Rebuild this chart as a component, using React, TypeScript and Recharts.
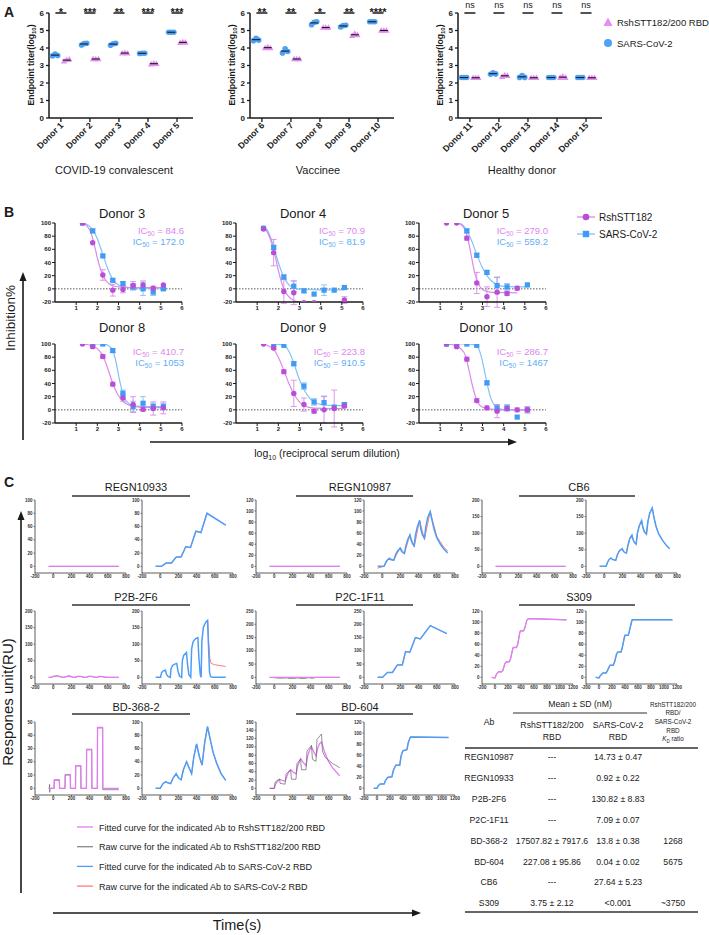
import React from 'react';
import { ComposedChart, Scatter, Line, XAxis, YAxis, ReferenceLine, ErrorBar } from 'recharts';

const FONT = '"Liberation Sans", Arial, Helvetica, sans-serif';

// ---------------- Panel A data ----------------
const donorsA1 = ['Donor 1', 'Donor 2', 'Donor 3', 'Donor 4', 'Donor 5'];
const donorsA2 = ['Donor 6', 'Donor 7', 'Donor 8', 'Donor 9', 'Donor 10'];
const donorsA3 = ['Donor 11', 'Donor 12', 'Donor 13', 'Donor 14', 'Donor 15'];
const sarsA1 = [[3.55, 3.66, 3.57], [4.17, 4.25, 4.27], [4.16, 4.24, 4.27], [3.69, 3.7, 3.7], [4.9, 4.9, 4.9]];
const rshA1 = [[3.24, 3.33, 3.35], [3.37, 3.37, 3.37], [3.7, 3.73, 3.7], [3.08, 3.13, 3.1], [4.3, 4.34, 4.32]];
const sigA1 = ['*', '***', '**', '***', '***'];
const sarsA2 = [[4.42, 4.56, 4.45], [3.72, 3.95, 3.8], [5.33, 5.47, 5.5], [5.2, 5.28, 5.3], [5.5, 5.5, 5.5]];
const rshA2 = [[4.0, 4.06, 4.0], [3.37, 3.37, 3.37], [5.17, 5.17, 5.17], [4.7, 4.82, 4.75], [5.0, 5.0, 5.0]];
const sigA2 = ['**', '**', '*', '**', '****'];
const sarsA3 = [[2.31, 2.31, 2.31], [2.5, 2.58, 2.52], [2.32, 2.42, 2.32], [2.31, 2.31, 2.31], [2.31, 2.31, 2.31]];
const rshA3 = [[2.3, 2.3, 2.3], [2.36, 2.45, 2.42], [2.3, 2.3, 2.3], [2.31, 2.38, 2.31], [2.3, 2.3, 2.3]];
const sigA3 = ['ns', 'ns', 'ns', 'ns', 'ns'];
const titerTicks = [0, 1, 2, 3, 4, 5, 6];
const groupLabelsA = ['COVID-19 convalescent', 'Vaccinee', 'Healthy donor'];
const legendA = ['RshSTT182/200 RBD', 'SARS-CoV-2'];

// ---------------- Panel B data ----------------
const dilX = [1.3, 1.78, 2.26, 2.73, 3.21, 3.69, 4.16, 4.64, 5.12];
const neutTitles = ['Donor 3', 'Donor 4', 'Donor 5', 'Donor 8', 'Donor 9', 'Donor 10'];
const neutRsh = [
  [100, 70, 21, -2, -1, 5, 6, 1, 6],
  [91, 55, -4, -6, -21, -21, null, null, -17],
  [100, 100, 77, 9, -12, -5, -7, 1, null],
  [100, 96, 81, 39, 18, 8, 1, 2, 3],
  [100, 94, 58, 25, 8, -2, 0, 2, 6],
  [100, 96, 77, 14, 3, -2, 2, 0, 0],
];
const neutRshErr = [
  [0, 0, 8, 9, 5, 6, 6, 3, 0],
  [0, 20, 18, 18, 0, 0, 0, 0, 5],
  [0, 0, 3, 16, 15, 23, 3, 3, 0],
  [0, 2, 3, 3, 5, 12, 3, 10, 9],
  [0, 2, 3, 20, 10, 3, 20, 28, 3],
  [0, 2, 3, 3, 3, 10, 3, 3, 5],
];
const neutSars = [
  [100, 88, 50, 13, 8, 3, 0, -5, 0],
  [92, 63, 18, 4, -3, -8, -2, -2, 2],
  [null, null, 88, 51, 25, 5, 3, null, 6],
  [null, 100, 100, 90, 25, 5, 10, 5, 5],
  [null, 100, 98, 70, 36, 12, 11, 4, 8],
  [100, 100, 100, 98, 41, 3, 3, -11, 0],
];
const neutSarsErr = [
  [0, 3, 2, 2, 3, 5, 10, 5, 2],
  [0, 3, 3, 8, 3, 0, 8, 0, 0],
  [0, 0, 3, 3, 3, 12, 5, 0, 0],
  [0, 0, 0, 3, 5, 8, 10, 5, 5],
  [0, 0, 0, 3, 5, 5, 10, 3, 3],
  [0, 0, 0, 0, 3, 5, 5, 0, 3],
];
const fitRsh = [
  [[1.3, 100], [1.5, 96], [1.7, 85], [1.85, 68], [2.0, 47], [2.15, 30], [2.3, 18], [2.5, 9], [2.7, 5], [3.0, 3], [3.5, 2], [4.5, 2], [5.12, 2]],
  [[1.3, 95], [1.5, 85], [1.7, 68], [1.85, 50], [2.0, 28], [2.15, 10], [2.3, -3], [2.5, -12], [2.7, -17], [3.0, -20], [3.5, -21], [5.12, -21.5]],
  [[1.78, 100], [2.0, 97], [2.2, 88], [2.35, 70], [2.5, 45], [2.65, 22], [2.8, 8], [3.0, -1], [3.3, -4.5], [3.7, -5.5], [4.64, -6]],
  [[1.3, 100], [1.78, 97], [2.0, 93], [2.26, 82], [2.5, 62], [2.73, 40], [2.95, 24], [3.21, 13], [3.5, 7], [4.0, 4], [4.6, 3.5], [5.12, 3.5]],
  [[1.3, 100], [1.6, 96], [1.8, 91], [2.0, 80], [2.26, 60], [2.5, 40], [2.73, 24], [3.0, 12], [3.3, 5], [3.7, 2.5], [4.5, 2], [5.12, 2]],
  [[1.3, 100], [1.78, 97], [2.0, 92], [2.2, 82], [2.35, 62], [2.5, 40], [2.65, 22], [2.8, 10], [3.0, 4], [3.4, 1], [4.0, 0], [5.12, 0]],
];
const fitSars = [
  [[1.3, 100], [1.6, 96], [1.8, 89], [2.0, 76], [2.26, 52], [2.5, 30], [2.73, 14], [3.0, 6], [3.3, 2.5], [4.0, 1], [5.12, 1]],
  [[1.3, 96], [1.5, 88], [1.7, 72], [1.85, 56], [2.0, 40], [2.26, 18], [2.5, 6], [2.8, 0.5], [3.2, -1], [4.0, -1.5], [5.12, -1.5]],
  [[1.9, 100], [2.1, 96], [2.3, 86], [2.5, 72], [2.73, 52], [3.0, 32], [3.21, 20], [3.5, 10], [3.8, 5], [4.2, 3.5], [5.12, 3]],
  [[1.78, 100], [2.26, 100], [2.5, 98], [2.73, 90], [2.9, 70], [3.05, 45], [3.21, 25], [3.4, 12], [3.7, 6], [4.2, 5], [5.12, 5]],
  [[1.78, 100], [2.26, 98], [2.5, 89], [2.73, 71], [2.95, 50], [3.21, 31], [3.5, 17], [3.8, 10], [4.3, 7], [5.12, 6.5]],
  [[1.3, 100], [2.26, 100], [2.6, 99], [2.8, 94], [2.95, 80], [3.1, 58], [3.21, 41], [3.35, 22], [3.5, 10], [3.7, 3], [4.0, 0.5], [5.12, 0]],
];
const icRsh = ['84.6', '70.9', '279.0', '410.7', '223.8', '286.7'];
const icSars = ['172.0', '81.9', '559.2', '1053', '910.5', '1467'];
const neutXTicks = [1, 2, 3, 4, 5, 6];
const neutYTicks = [-20, 0, 20, 40, 60, 80, 100];
const legendB = ['RshSTT182', 'SARS-CoV-2'];

// ---------------- Panel C data ----------------
const xt800 = [-200, 0, 200, 400, 600, 800];
const xt1200 = [-200, 0, 200, 400, 600, 800, 1000, 1200];
const yt50 = [0, 10, 20, 30, 40, 50];
const yt100 = [0, 20, 40, 60, 80, 100];
const yt120 = [0, 20, 40, 60, 80, 100, 120];
const yt160 = [0, 20, 40, 60, 80, 100, 120, 140, 160];
const yt200 = [0, 50, 100, 150, 200];
const yt250 = [0, 50, 100, 150, 200, 250];

const flatRsh = [[-50, 0], [720, 0]];
const reg33Sars = [[-50, 0], [13, 0], [65, 5], [124, 5], [176, 14], [229, 14], [281, 29.5], [333, 28.5], [392, 53], [448, 51], [514, 80], [720, 62]];
const reg87Sars = [[-50, 0], [21, 0], [35, 6], [50, 10], [74, 14], [90, 12.5], [127, 11], [145, 20], [165, 27], [198, 33], [210, 28], [225, 25], [244, 23], [260, 37], [280, 48], [305, 57], [318, 47], [333, 41], [351, 37], [365, 56], [385, 71], [411, 83], [425, 67], [442, 57], [464, 51], [480, 72], [500, 88], [528, 99], [545, 85], [570, 67], [600, 52], [640, 40], [680, 31], [720, 24]];
const reg87SarsRaw = [[-50, -3], [21, 0], [74, 15.5], [127, 11], [198, 34], [244, 23], [305, 57], [351, 35], [411, 83], [464, 49], [528, 99], [600, 54], [680, 34], [720, 28]];
const cb6Sars = [[-50, 0], [21, 0], [35, 11], [50, 19], [74, 25], [90, 21], [127, 18], [145, 35], [165, 46], [198, 53], [210, 46], [225, 42], [244, 40], [260, 62], [280, 83], [305, 94], [318, 80], [333, 72], [351, 67], [365, 100], [385, 122], [411, 138], [425, 117], [442, 104], [464, 97], [480, 135], [500, 160], [528, 176], [545, 150], [570, 120], [600, 97], [640, 79], [680, 64], [720, 53]];
const p2bRsh = [[-50, 0], [-20, 0], [0, 3], [30, 4], [60, 4], [90, 1], [120, 0], [150, 3], [180, 4], [210, 1], [240, 0], [270, 3], [300, 3], [330, 1], [360, 0], [390, 3], [420, 3], [450, 1], [480, 0], [510, 3], [540, 2], [580, 0], [720, 0]];
const p2bSars = [[-50, 0], [4, 0], [15, 14], [30, 19], [57, 22], [68, 10], [85, 3], [111, 0], [118, 25], [135, 36], [160, 40], [182, 42], [195, 20], [212, 4], [236, 0], [243, 50], [258, 66], [289, 75], [300, 40], [315, 8], [336, 0], [345, 85], [362, 108], [390, 117], [414, 120], [425, 60], [440, 8], [450, 0], [458, 110], [475, 152], [504, 168], [521, 172], [530, 100], [542, 15], [555, 2], [572, 0], [720, 0]];
const p2bSarsRaw = [[504, 168], [521, 172], [532, 110], [545, 58], [560, 42], [600, 38], [720, 33]];
const p2cRshRaw = [[-50, 0], [0, -1], [40, -3], [100, -3], [140, -2], [160, -4], [220, -4], [260, -2], [280, -4], [340, -4], [380, -1], [400, -3], [430, -3], [460, 0], [720, 0]];
const p2cSars = [[-50, 0], [4, 0], [58, 18.6], [112, 18.6], [167, 47], [221, 47], [257, 97], [304, 95], [365, 150], [419, 145], [528, 195], [710, 165]];
const s309Rsh = [[-50, 0], [0, -1], [20, 5], [50, 10], [100, 10], [120, 12], [150, 24], [170, 28], [220, 28], [240, 34], [270, 50], [280, 54], [330, 54], [350, 60], [380, 80], [390, 84], [440, 84], [460, 90], [490, 103], [510, 106], [600, 106], [1100, 104]];
const s309Sars = [[-50, 0], [0, -1], [20, 3], [60, 8], [110, 8], [130, 12], [160, 20], [170, 22], [220, 22], [240, 28], [270, 42], [290, 46], [340, 46], [360, 55], [390, 72], [400, 76], [450, 76], [470, 85], [500, 100], [510, 104], [1130, 104]];
const bd368Rsh = [[-50, 0], [10, 0], [12, 6], [68, 6], [70, 0], [130, 0], [132, 10], [188, 10], [190, 0], [245, 0], [247, 17], [303, 17], [305, 0], [365, 0], [367, 29], [423, 29], [425, 0], [485, 0], [487, 46], [543, 46], [545, 0], [720, 0]];
const bd368RshRaw = [[-50, 0], [-42, 0], [-40, 3], [-38, -3], [-36, 0], [10, 0], [12, 6.5], [68, 6.5], [70, 0], [130, 0], [132, 10.5], [188, 10.5], [190, 0], [245, 0], [247, 17], [303, 17], [305, 0], [365, 0], [367, 29.5], [423, 29.5], [425, 0], [485, 0], [487, 45.5], [543, 45.5], [545, -1], [720, -1]];
const bd368Sars = [[-50, 0], [0, 0], [30, 7], [60, 10], [90, 8], [115, 7], [140, 15], [175, 22], [200, 16], [230, 13], [255, 28], [290, 40], [320, 30], [345, 22], [370, 48], [400, 67], [430, 48], [460, 35], [490, 70], [520, 93], [540, 80], [580, 55], [620, 38], [670, 22], [720, 12]];
const bd604Rsh = [[-50, 0], [0, 0], [20, 12], [40, 18], [60, 22], [90, 19], [120, 17], [140, 30], [160, 40], [180, 45], [210, 39], [240, 35], [260, 55], [280, 67], [290, 72], [320, 62], [350, 55], [370, 80], [390, 93], [410, 100], [435, 88], [460, 78], [480, 98], [500, 108], [520, 112], [550, 90], [590, 68], [640, 50], [680, 40], [720, 30]];
const bd604RshRaw = [[-50, 0], [0, 0], [10, 15], [40, 20], [60, 22], [65, 12], [120, 10], [130, 35], [180, 44], [190, 22], [240, 22], [250, 60], [290, 70], [300, 45], [350, 45], [360, 90], [410, 104], [420, 70], [460, 65], [470, 118], [520, 131], [530, 90], [560, 75], [640, 60], [720, 50]];
const bd604Sars = [[-50, 0], [0, 0], [20, 5], [50, 8], [110, 8], [130, 14], [160, 19], [170, 20], [230, 21], [250, 32], [280, 40], [290, 42], [350, 42], [370, 58], [395, 67], [400, 68], [460, 70], [480, 82], [510, 92], [520, 93], [1100, 92]];

const sprTitles = [['REGN10933', 'REGN10987', 'CB6'], ['P2B-2F6', 'P2C-1F11', 'S309'], ['BD-368-2', 'BD-604']];
const legendC = [
  'Fitted curve for the indicated Ab to RshSTT182/200 RBD',
  'Raw curve for the indicated Ab to RshSTT182/200 RBD',
  'Fitted curve for the indicated Ab to SARS-CoV-2 RBD',
  'Raw curve for the indicated Ab to SARS-CoV-2 RBD',
];
const tableAb = ['REGN10987', 'REGN10933', 'P2B-2F6', 'P2C-1F11', 'BD-368-2', 'BD-604', 'CB6', 'S309'];
const tableRsh = ['---', '---', '---', '---', '17507.82 ± 7917.6', '227.08 ± 95.86', '---', '3.75 ± 2.12'];
const tableSars = ['14.73 ± 0.47', '0.92 ± 0.22', '130.82 ± 8.83', '7.09 ± 0.07', '13.8 ± 0.38', '0.04 ± 0.02', '27.64 ± 5.23', '<0.001'];
const tableRatio = ['', '', '', '', '1268', '5675', '', '~3750'];

// ---------------- colours ----------------
const BLUE_A = '#4ea2f5';
const PINK_A = '#e48ef1';
const PURPLE_B = '#b94dd8';
const PURPLE_FIT = '#d98be9';
const BLUE_B = '#3f9bf3';
const BLUE_FIT = '#84c1f8';
const IC_PINK = '#dd86ee';
const IC_BLUE = '#62aef6';
const MAG_C = '#e37cf2';
const GRAY_C = '#666666';
const BLUE_C = '#4d9ef7';
const RED_C = '#ff7b7b';
const INK = '#1a1a1a';

const avg = (a: number[]) => a.reduce((s, v) => s + v, 0) / a.length;

// ---------------- Panel A chart ----------------
function TiterChart({ left, labels, sars, rsh, sig }: any) {
  const bluePts = sars.flatMap((reps: number[], i: number) => reps.map((v, j) => ({ x: i + 1 - 0.2 + (j - 1) * 0.09, y: v })));
  const pinkPts = rsh.flatMap((reps: number[], i: number) => reps.map((v, j) => ({ x: i + 1 + 0.2 + (j - 1) * 0.09, y: v })));
  const meanPts = [
    ...sars.map((r: number[], i: number) => ({ x: i + 1 - 0.2, y: avg(r) })),
    ...rsh.map((r: number[], i: number) => ({ x: i + 1 + 0.2, y: avg(r) })),
  ];
  const sigPts = sig.map((s: string, i: number) => ({ x: i + 1, y: 6, label: s }));
  const tick = (p: any) => {
    const tx = p.x + 3;
    const ty = p.y + 2;
    return (
      <text x={tx} y={ty} transform={`rotate(-45 ${tx} ${ty})`} textAnchor="end" fontSize={8.8} fontWeight="bold" fill={INK} fontFamily={FONT}>
        {labels[p.payload.value - 1]}
      </text>
    );
  };
  return (
    <div style={{ position: 'absolute', left, top: 0 }}>
      <ComposedChart width={200} height={160} margin={{ top: 13, right: 7, bottom: 0, left: 0 }}>
        <XAxis type="number" dataKey="x" domain={[0.59, 5.55]} ticks={[1, 2, 3, 4, 5]} interval={0} height={42}
          tick={tick} tickSize={4} tickMargin={2} axisLine={{ stroke: INK, strokeWidth: 1.5 }} tickLine={{ stroke: INK, strokeWidth: 1.3 }} />
        <YAxis type="number" dataKey="y" domain={[0, 6]} ticks={titerTicks} interval={0} width={49}
          tick={{ fontSize: 8, fill: INK, fontWeight: 'bold', fontFamily: FONT }} tickSize={3} tickMargin={2}
          axisLine={{ stroke: INK, strokeWidth: 1.5 }} tickLine={{ stroke: INK, strokeWidth: 1.3 }} />
        <Scatter data={bluePts} isAnimationActive={false}
          shape={(p: any) => <circle cx={p.cx} cy={p.cy} r={2.8} fill={BLUE_A} />} />
        <Scatter data={pinkPts} isAnimationActive={false}
          shape={(p: any) => <polygon points={`${p.cx},${p.cy - 3.3} ${p.cx - 3.2},${p.cy + 2.3} ${p.cx + 3.2},${p.cy + 2.3}`} fill={PINK_A} />} />
        <Scatter data={meanPts} isAnimationActive={false}
          shape={(p: any) => <line x1={p.cx - 4} x2={p.cx + 4} y1={p.cy} y2={p.cy} stroke={INK} strokeWidth={1.1} />} />
        <Scatter data={sigPts} isAnimationActive={false}
          shape={(p: any) => (
            <g>
              <line x1={p.cx - 5.5} x2={p.cx + 5.5} y1={p.cy} y2={p.cy} stroke={INK} strokeWidth={1.5} />
              <text x={p.cx} y={p.payload.label === 'ns' ? p.cy - 5 : p.cy + 2.5} textAnchor="middle"
                fontSize={p.payload.label === 'ns' ? 9 : 11} fontWeight={p.payload.label === 'ns' ? 'normal' : 'bold'} fill={INK} fontFamily={FONT}>
                {p.payload.label}
              </text>
            </g>
          )} />
      </ComposedChart>
    </div>
  );
}

// ---------------- Panel B chart ----------------
function NeutChart({ left, top, idx }: any) {
  const rshPts = dilX.map((x, i) => (neutRsh[idx][i] == null ? null : { x, y: neutRsh[idx][i], e: neutRshErr[idx][i] })).filter(Boolean);
  const sarsPts = dilX.map((x, i) => (neutSars[idx][i] == null ? null : { x, y: neutSars[idx][i], e: neutSarsErr[idx][i] })).filter(Boolean);
  const rf = fitRsh[idx].map(([x, y]) => ({ x, y }));
  const sf = fitSars[idx].map(([x, y]) => ({ x, y }));
  const tickStyle = { fontSize: 6, fill: INK, fontWeight: 'bold', fontFamily: FONT };
  return (
    <div style={{ position: 'absolute', left, top }}>
      <ComposedChart width={190} height={101} margin={{ top: 8, right: 8, bottom: 0, left: 0 }}>
        <XAxis type="number" dataKey="x" domain={[0, 6]} ticks={neutXTicks} interval={0} height={14}
          tick={tickStyle} tickSize={3} tickMargin={1} axisLine={{ stroke: INK, strokeWidth: 1.3 }} tickLine={{ stroke: INK, strokeWidth: 1 }} />
        <YAxis type="number" dataKey="y" domain={[-20, 100]} ticks={neutYTicks} interval={0} width={55}
          tick={tickStyle} tickSize={3} tickMargin={1} axisLine={{ stroke: INK, strokeWidth: 1.3 }} tickLine={{ stroke: INK, strokeWidth: 1 }} allowDataOverflow />
        <ReferenceLine y={0} stroke="#333" strokeDasharray="1.5 1.5" strokeWidth={0.8} />
        <Line data={sf} dataKey="y" type="monotone" stroke={BLUE_FIT} strokeWidth={1.2} dot={false} isAnimationActive={false} />
        <Line data={rf} dataKey="y" type="monotone" stroke={PURPLE_FIT} strokeWidth={1.2} dot={false} isAnimationActive={false} />
        <Scatter data={sarsPts} isAnimationActive={false}
          shape={(p: any) => <rect x={p.cx - 2.6} y={p.cy - 2.6} width={5.2} height={5.2} fill={BLUE_B} />}>
          <ErrorBar dataKey="e" direction="y" width={3} stroke={BLUE_FIT} strokeWidth={0.9} isAnimationActive={false} />
        </Scatter>
        <Scatter data={rshPts} isAnimationActive={false}
          shape={(p: any) => <circle cx={p.cx} cy={p.cy} r={2.7} fill={PURPLE_B} />}>
          <ErrorBar dataKey="e" direction="y" width={3} stroke={PURPLE_FIT} strokeWidth={0.9} isAnimationActive={false} />
        </Scatter>
      </ComposedChart>
    </div>
  );
}

// ---------------- Panel C chart ----------------
function SprChart({ x0, yTop, xTicks, yTicks, lines }: any) {
  const W = 91;
  const H = 73;
  const R = 7;
  const yMax = yTicks[yTicks.length - 1];
  const xMax = xTicks[xTicks.length - 1];
  const tickStyle = { fontSize: 4.5, fill: '#333', fontWeight: 'bold', fontFamily: FONT };
  return (
    <div style={{ position: 'absolute', left: x0 - 16, top: yTop - 4 }}>
      <ComposedChart width={16 + W + R} height={4 + H + 10} margin={{ top: 4, right: R, bottom: 0, left: 0 }}>
        <XAxis type="number" dataKey="x" domain={[-200, xMax]} ticks={xTicks} interval={0} height={10} allowDataOverflow
          tick={tickStyle} tickSize={1.5} tickMargin={0.5} axisLine={{ stroke: '#333', strokeWidth: 0.8 }} tickLine={{ stroke: '#333', strokeWidth: 0.6 }} />
        <YAxis type="number" dataKey="y" domain={[-yMax * 0.1, yMax]} ticks={yTicks} interval={0} width={16} allowDataOverflow
          tick={tickStyle} tickSize={1.5} tickMargin={1} axisLine={{ stroke: '#333', strokeWidth: 0.8 }} tickLine={{ stroke: '#333', strokeWidth: 0.6 }} />
        {lines.map((l: any, i: number) => (
          <Line key={i} data={l.data.map(([x, y]: number[]) => ({ x, y }))} dataKey="y" type="linear"
            stroke={l.color} strokeWidth={l.w} dot={false} isAnimationActive={false} />
        ))}
      </ComposedChart>
    </div>
  );
}

const colL = [35, 256, 482];
const colR = [142, 364, 586];
const rowTop = [500, 611, 722];
const titleX = [136, 360, 579];
const titleY = [491, 601, 711];
const ulineY = [496, 605, 714];
const ulineX = [[72, 190], [296, 413], [519, 635]];

const mag = (d: number[][]) => ({ data: d, color: MAG_C, w: 1.3 });
const gray = (d: number[][]) => ({ data: d, color: GRAY_C, w: 0.7 });
const blue = (d: number[][]) => ({ data: d, color: BLUE_C, w: 1.5 });
const red = (d: number[][]) => ({ data: d, color: RED_C, w: 1 });

function Arrow({ x1, y1, x2, y2 }: any) {
  const vertical = x1 === x2;
  const head = vertical
    ? `${x2},${y2} ${x2 - 3.5},${y2 + 9} ${x2 + 3.5},${y2 + 9}`
    : `${x2},${y2} ${x2 - 9},${y2 - 3.5} ${x2 - 9},${y2 + 3.5}`;
  return (
    <g>
      <line x1={x1} y1={y1} x2={vertical ? x2 : x2 - 6} y2={vertical ? y2 + 6 : y2} stroke={INK} strokeWidth={1.6} />
      <polygon points={head} fill={INK} />
    </g>
  );
}

export default function App() {
  const aAxes = [49, 250, 458];
  const bAxes = [55, 236, 419];
  const bRowTop = [215, 336];
  return (
    <div style={{ position: 'absolute', left: 0, top: 0, width: 709, height: 935, background: '#fff', overflow: 'hidden', fontFamily: FONT }}>
      {/* Panel A */}
      <TiterChart left={0} labels={donorsA1} sars={sarsA1} rsh={rshA1} sig={sigA1} />
      <TiterChart left={201} labels={donorsA2} sars={sarsA2} rsh={rshA2} sig={sigA2} />
      <TiterChart left={409} labels={donorsA3} sars={sarsA3} rsh={rshA3} sig={sigA3} />

      {/* Panel B */}
      {neutTitles.map((t, i) => (
        <NeutChart key={t} left={bAxes[i % 3] - 55} top={bRowTop[Math.floor(i / 3)]} idx={i} />
      ))}

      {/* Panel C */}
      <SprChart x0={colL[0]} yTop={rowTop[0]} xTicks={xt800} yTicks={yt100} lines={[gray(flatRsh), mag(flatRsh)]} />
      <SprChart x0={colR[0]} yTop={rowTop[0]} xTicks={xt800} yTicks={yt100} lines={[red(reg33Sars), blue(reg33Sars)]} />
      <SprChart x0={colL[1]} yTop={rowTop[0]} xTicks={xt800} yTicks={yt120} lines={[gray(flatRsh), mag(flatRsh)]} />
      <SprChart x0={colR[1]} yTop={rowTop[0]} xTicks={xt800} yTicks={yt120} lines={[red(reg87SarsRaw), blue(reg87Sars)]} />
      <SprChart x0={colL[2]} yTop={rowTop[0]} xTicks={xt800} yTicks={yt200} lines={[gray(flatRsh), mag(flatRsh)]} />
      <SprChart x0={colR[2]} yTop={rowTop[0]} xTicks={xt800} yTicks={yt200} lines={[red(cb6Sars), blue(cb6Sars)]} />

      <SprChart x0={colL[0]} yTop={rowTop[1]} xTicks={xt800} yTicks={yt200} lines={[gray(p2bRsh), mag(p2bRsh)]} />
      <SprChart x0={colR[0]} yTop={rowTop[1]} xTicks={xt800} yTicks={yt200} lines={[red(p2bSarsRaw), blue(p2bSars)]} />
      <SprChart x0={colL[1]} yTop={rowTop[1]} xTicks={xt800} yTicks={yt250} lines={[gray(p2cRshRaw), mag(flatRsh)]} />
      <SprChart x0={colR[1]} yTop={rowTop[1]} xTicks={xt800} yTicks={yt250} lines={[red(p2cSars), blue(p2cSars)]} />
      <SprChart x0={colL[2]} yTop={rowTop[1]} xTicks={xt1200} yTicks={yt120} lines={[gray(s309Rsh), mag(s309Rsh)]} />
      <SprChart x0={colR[2]} yTop={rowTop[1]} xTicks={xt1200} yTicks={yt120} lines={[red(s309Sars), blue(s309Sars)]} />

      <SprChart x0={colL[0]} yTop={rowTop[2]} xTicks={xt800} yTicks={yt50} lines={[gray(bd368RshRaw), mag(bd368Rsh)]} />
      <SprChart x0={colR[0]} yTop={rowTop[2]} xTicks={xt800} yTicks={yt100} lines={[red(bd368Sars), blue(bd368Sars)]} />
      <SprChart x0={colL[1]} yTop={rowTop[2]} xTicks={xt800} yTicks={yt160} lines={[mag(bd604Rsh), gray(bd604RshRaw)]} />
      <SprChart x0={colR[1]} yTop={rowTop[2]} xTicks={xt1200} yTicks={yt120} lines={[red(bd604Sars), blue(bd604Sars)]} />

      {/* Overlay texts and decorations */}
      <svg width={709} height={935} style={{ position: 'absolute', left: 0, top: 0, pointerEvents: 'none' }} fontFamily={FONT}>
        {/* panel letters */}
        <text x={4} y={17} fontSize={14} fontWeight="bold" fill={INK}>A</text>
        <text x={4} y={217} fontSize={14} fontWeight="bold" fill={INK}>B</text>
        <text x={4} y={487} fontSize={14} fontWeight="bold" fill={INK}>C</text>

        {/* A: y labels */}
        {aAxes.map((ax) => (
          <text key={ax} transform={`translate(${ax - 15},65) rotate(-90)`} textAnchor="middle" fontSize={8.6} fontWeight="bold" fill={INK}>
            Endpoint titer(log<tspan fontSize={6} dy={2}>10</tspan><tspan dy={-2}>)</tspan>
          </text>
        ))}
        {/* A: group labels */}
        <text x={114} y={174} textAnchor="middle" fontSize={11} fill={INK}>{groupLabelsA[0]}</text>
        <text x={318} y={174} textAnchor="middle" fontSize={11} fill={INK}>{groupLabelsA[1]}</text>
        <text x={522} y={174} textAnchor="middle" fontSize={11} fill={INK}>{groupLabelsA[2]}</text>
        {/* A: legend */}
        <polygon points="608,17.5 603.5,26 612.5,26" fill={PINK_A} />
        <text x={617} y={26} fontSize={9.5} fill={INK}>{legendA[0]}</text>
        <circle cx={608} cy={43} r={4} fill={BLUE_A} />
        <text x={617} y={46.5} fontSize={9.5} fill={INK}>{legendA[1]}</text>

        {/* B: titles & IC50 */}
        {neutTitles.map((t, i) => {
          const ax = bAxes[i % 3];
          const r = Math.floor(i / 3);
          const ty = r === 0 ? 218 : 332;
          const icy = r === 0 ? 233.5 : 354.5;
          return (
            <g key={t}>
              <text x={ax + 67} y={ty} textAnchor="middle" fontSize={13} fill={INK}>{t}</text>
              <text x={ax + 129} y={icy} textAnchor="end" fontSize={9.5} fill={IC_PINK}>
                IC<tspan fontSize={6.5} dy={2}>50</tspan><tspan dy={-2}>{' = ' + icRsh[i]}</tspan>
              </text>
              <text x={ax + 129} y={icy + 11.5} textAnchor="end" fontSize={9.5} fill={IC_BLUE}>
                IC<tspan fontSize={6.5} dy={2}>50</tspan><tspan dy={-2}>{' = ' + icSars[i]}</tspan>
              </text>
            </g>
          );
        })}
        {/* B: legend */}
        <line x1={577} x2={595} y1={217} y2={217} stroke={PURPLE_FIT} strokeWidth={1.3} />
        <circle cx={586} cy={217} r={3.3} fill={PURPLE_B} />
        <text x={599} y={220.5} fontSize={10} fill={INK}>{legendB[0]}</text>
        <line x1={577} x2={595} y1={234} y2={234} stroke={BLUE_FIT} strokeWidth={1.3} />
        <rect x={582.8} y={230.8} width={6.4} height={6.4} fill={BLUE_B} />
        <text x={599} y={237.5} fontSize={10} fill={INK}>{legendB[1]}</text>
        {/* B: axis titles */}
        <text transform="translate(15,318) rotate(-90)" textAnchor="middle" fontSize={13.5} fill={INK}>Inhibition%</text>
        <Arrow x1={23} y1={440} x2={23} y2={272} />
        <Arrow x1={150} y1={442} x2={517} y2={442} />
        <text x={327} y={457} textAnchor="middle" fontSize={10.5} fill={INK}>
          log<tspan fontSize={7} dy={3}>10</tspan><tspan dy={-3}> (reciprocal serum dilution)</tspan>
        </text>

        {/* C: titles */}
        {sprTitles.map((row, r) =>
          row.map((t, c) => (
            <g key={t}>
              <text x={titleX[c]} y={titleY[r]} textAnchor="middle" fontSize={11} fill={INK}>{t}</text>
              <line x1={ulineX[c][0]} x2={ulineX[c][1]} y1={ulineY[r]} y2={ulineY[r]} stroke="#333" strokeWidth={1.5} />
            </g>
          ))
        )}
        {/* C: axis titles */}
        <text transform="translate(13,702) rotate(-90)" textAnchor="middle" fontSize={15} fill={INK}>Respones unit(RU)</text>
        <Arrow x1={21} y1={893} x2={21} y2={511} />
        <Arrow x1={53} y1={913} x2={421} y2={913} />
        <text x={237} y={930} textAnchor="middle" fontSize={14.5} fill={INK}>Time(s)</text>

        {/* C: legend */}
        {legendC.map((t, i) => (
          <g key={t}>
            <line x1={77} x2={93} y1={827 + i * 19.7} y2={827 + i * 19.7} stroke={[MAG_C, '#888', BLUE_C, RED_C][i]} strokeWidth={1.3} />
            <text x={99} y={830.5 + i * 19.7} fontSize={9} fill={INK}>{t}</text>
          </g>
        ))}

        {/* C: table */}
        <text x={580} y={707} textAnchor="middle" fontSize={8.7} fill={INK}>Mean ± SD (nM)</text>
        <line x1={513} x2={647} y1={713} y2={713} stroke="#333" strokeWidth={1.2} />
        <text x={489} y={725} textAnchor="middle" fontSize={8.7} fill={INK}>Ab</text>
        <text x={552} y={728} textAnchor="middle" fontSize={8.7} fill={INK}>RshSTT182/200</text>
        <text x={552} y={740} textAnchor="middle" fontSize={8.7} fill={INK}>RBD</text>
        <text x={618} y={728} textAnchor="middle" fontSize={8.7} fill={INK}>SARS-CoV-2</text>
        <text x={618} y={740} textAnchor="middle" fontSize={8.7} fill={INK}>RBD</text>
        <text x={673} y={706.5} textAnchor="middle" fontSize={6.3} fill={INK}>RshSTT182/200</text>
        <text x={673} y={715} textAnchor="middle" fontSize={6.3} fill={INK}>RBD/</text>
        <text x={673} y={724} textAnchor="middle" fontSize={6.3} fill={INK}>SARS-CoV-2</text>
        <text x={673} y={732.5} textAnchor="middle" fontSize={6.3} fill={INK}>RBD</text>
        <text x={673} y={741} textAnchor="middle" fontSize={6.3} fill={INK}>
          <tspan fontStyle="italic">K</tspan><tspan fontSize={4.5} dy={1.5}>D</tspan><tspan dy={-1.5}> ratio</tspan>
        </text>
        <line x1={465} x2={698} y1={748} y2={748} stroke="#333" strokeWidth={1.5} />
        {tableAb.map((ab, i) => {
          const y = 760 + i * 20.9;
          return (
            <g key={ab}>
              <text x={489} y={y} textAnchor="middle" fontSize={8.7} fill={INK}>{ab}</text>
              <text x={552} y={y} textAnchor="middle" fontSize={8.7} fill={INK}>{tableRsh[i]}</text>
              <text x={618} y={y} textAnchor="middle" fontSize={8.7} fill={INK}>{tableSars[i]}</text>
              <text x={673} y={y} textAnchor="middle" fontSize={8.7} fill={INK}>{tableRatio[i]}</text>
            </g>
          );
        })}
        <line x1={465} x2={698} y1={912} y2={912} stroke="#333" strokeWidth={1.5} />
      </svg>
    </div>
  );
}
